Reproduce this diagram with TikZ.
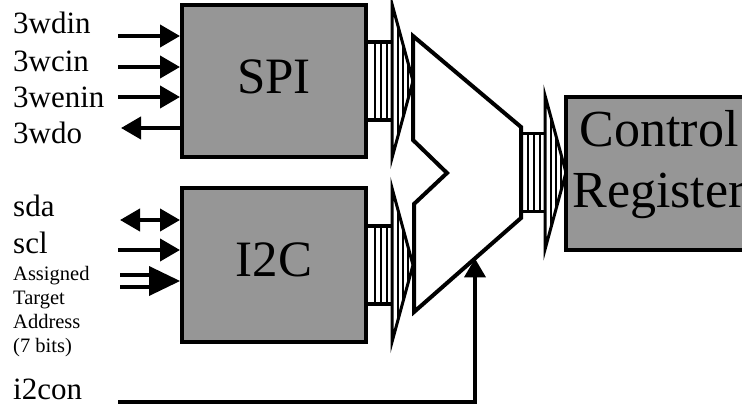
\documentclass[tikz,border=0pt]{standalone}
\usepackage{fontspec}
\setmainfont{Liberation Serif}
\usetikzlibrary{arrows.meta,calc}
\definecolor{boxgray}{RGB}{150,150,150}
\tikzset{
  blockbox/.style={draw=black, fill=boxgray, line width=4pt, inner sep=0pt},
  biglabel/.style={font=\fontsize{31}{36}\selectfont, inner sep=0pt, anchor=base west},
  smalllabel/.style={font=\fontsize{20.5}{24}\selectfont, inner sep=0pt, align=left, anchor=north west},
  sig/.style={line width=4pt, -{Triangle[length=20pt,width=22pt]}},
  sigback/.style={line width=4pt, {Triangle[length=20pt,width=22pt]}-},
  sigboth/.style={line width=4pt, {Triangle[length=20pt,width=22pt]}-{Triangle[length=20pt,width=22pt]}},
  muxline/.style={draw=black, line width=4pt, line join=miter},
  hatch/.style={line width=1.2pt},
  pics/bus/.style={code={
    \foreach \hx in {7,13,19} {\draw[hatch] (\hx,-39) -- (\hx,39);}
    \foreach \hx/\hh in {30/55,35/36.7,40/18.3} {\draw[hatch] (\hx,-\hh) -- (\hx,\hh);}
    \draw[line width=3.5pt] (0,-39) -- (24,-39);
    \draw[line width=3.5pt] (0,39) -- (24,39);
    \draw[line width=3pt, line join=miter] (24,-77) -- (45,0) -- (24,77) -- cycle;
  }}
}
\begin{document}
\begin{tikzpicture}[x=1pt,y=-1pt]
\useasboundingbox (0,0) rectangle (742,404);
% blocks
\node[blockbox, minimum width=184pt, minimum height=152pt, font=\fontsize{51}{51}\selectfont, text depth=9pt] (spi) at (274,81) {SPI};
\node[blockbox, minimum width=184pt, minimum height=154pt, font=\fontsize{51}{51}\selectfont, text depth=11pt] (i2c) at (274,265) {I2C};
\node[blockbox, minimum width=186pt, minimum height=153pt] (creg) at (659,173.5) {};
\node[font=\fontsize{52}{61}\selectfont, align=center, inner sep=0pt] (cregtext) at (659,165) {Control\\Register};
% multiplexer
\coordinate (m1) at (413,36);
\coordinate (m2) at (521,127);
\coordinate (m3) at (521,218);
\coordinate (m4) at (414,312);
\coordinate (m5) at (414,204);
\coordinate (m6) at (447,173);
\coordinate (m7) at (413,140);
\draw[muxline] (m1) -- (m2) -- (m3) -- (m4) -- (m5) -- (m6) -- (m7) -- cycle;
\coordinate (mtap) at ($(m3)!0.43!(m4)$);
% buses
\pic at (spi.east) {bus};
\pic at (i2c.east) {bus};
\pic at ($(m2)!0.5!(m3)$) {bus};
% SPI signals
\node[biglabel] (l1) at (13,34) {3wdin};
\node[biglabel] (l2) at (13,71) {3wcin};
\node[biglabel] (l3) at (13,107) {3wenin};
\node[biglabel] (l4) at (13,143) {3wdo};
\coordinate (a1) at (118,36);
\coordinate (a2) at (118,67);
\coordinate (a3) at (118,97);
\coordinate (a4) at (121,128);
\draw[sig] (a1) -- (a1 -| spi.west);
\draw[sig] (a2) -- (a2 -| spi.west);
\draw[sig] (a3) -- (a3 -| spi.west);
\draw[sigback] (a4) -- (a4 -| spi.west);
% I2C signals
\node[biglabel] (l5) at (13,216) {sda};
\node[biglabel] (l6) at (13,253) {scl};
\node[smalllabel] (l7) at (13,266) {Assigned\\Target\\Address\\(7 bits)};
\node[biglabel] (l8) at (13,399) {i2con};
\coordinate (b1) at (120,220);
\coordinate (b2) at (118,250);
\coordinate (b3) at (120,281);
\draw[sigboth] (b1) -- (b1 -| i2c.west);
\draw[sig] (b2) -- (b2 -| i2c.west);
\draw[line width=3.5pt] ($(b3)+(0,-6)$) -- ($(b3)+(32,-6)$);
\draw[line width=3.5pt] ($(b3)+(0,6)$) -- ($(b3)+(32,6)$);
\fill (b3 -| i2c.west) -- ++(-31,-15) -- ++(0,30) -- cycle;
\coordinate (d1) at (118,402);
\draw[line width=4pt, -{Triangle[length=19pt,width=21pt]}] (d1) -| (mtap);
\end{tikzpicture}
\end{document}
